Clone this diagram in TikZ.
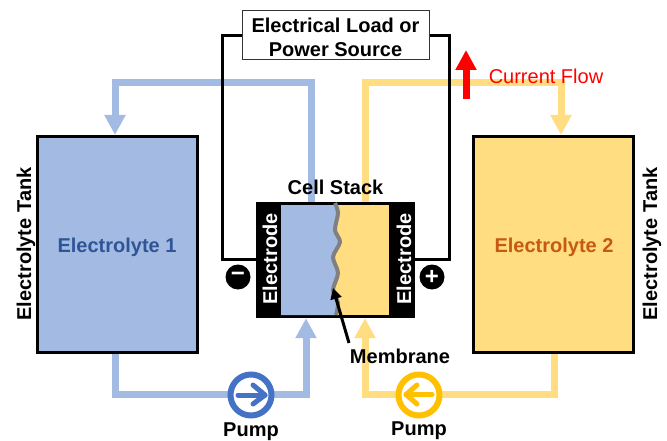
\documentclass[tikz,border=0pt]{standalone}
\usepackage{fontspec}
\setmainfont{Liberation Sans}
\usetikzlibrary{arrows.meta}
\definecolor{pipeblue}{HTML}{A3BBE2}
\definecolor{pipeyellow}{HTML}{FFDD80}
\definecolor{pumpblue}{HTML}{4472C4}
\definecolor{pumpyellow}{HTML}{FFC000}
\definecolor{labblue}{HTML}{2F5597}
\definecolor{laborange}{HTML}{C55A11}
\newcommand{\memwave}{(335,203) (338,213) (335,230) (340,242) (333,257) (338,273) (333,290) (338,303) (336,315)}
\tikzset{
  lbl/.style={font=\fontsize{20}{24}\selectfont\bfseries,text=black,inner sep=0pt},
  tank/.style={draw=black,line width=3pt,minimum width=160pt,minimum height=215pt,inner sep=0pt},
  wire/.style={draw=black,line width=3pt},
  bluepipe/.style={draw=pipeblue,line width=7pt},
  yellowpipe/.style={draw=pipeyellow,line width=7pt},
  headtip/.style={-{Triangle[width=20pt,length=20pt]}},
  pumpc/.style={circle,fill=white,line width=6pt,minimum size=41pt,inner sep=0pt},
  pumparrow/.style={line width=5pt,line cap=round,line join=round},
  electrode/.style={fill=black,minimum width=25pt,minimum height=116pt,inner sep=0pt},
  etext/.style={font=\fontsize{20}{24}\selectfont\bfseries,text=white,rotate=90,inner sep=0pt},
  term/.style={circle,fill=black,minimum size=25pt,inner sep=0pt,text=white,font=\fontsize{24}{24}\selectfont\bfseries},
}
\begin{document}
\begin{tikzpicture}[x=1pt,y=-1pt]
\useasboundingbox (0,0) rectangle (667,441);
% tanks
\node[tank,fill=pipeblue] (tank1) at (117,244.5) {};
\node[tank,fill=pipeyellow] (tank2) at (553.5,244.5) {};
\node[inner sep=0pt,font=\fontsize{20}{24}\selectfont\bfseries,text=labblue] (e1) at (117,247) {Electrolyte 1};
\node[inner sep=0pt,font=\fontsize{20}{24}\selectfont\bfseries,text=laborange] (e2) at (554,247) {Electrolyte 2};
\node[lbl,rotate=90] (t1) at (26,244) {Electrolyte Tank};
\node[lbl,rotate=90] (t2) at (652,244) {Electrolyte Tank};
% cell
\node[electrode] (elL) at (268.5,260) {};
\node[electrode] (elR) at (402.5,260) {};
\node[fill=black,minimum width=159pt,minimum height=116pt,inner sep=0pt] (cell) at (335.5,260) {};
\node[etext] (elLt) at (270,259) {Electrode};
\node[etext] (elRt) at (404,259) {Electrode};
% pipes
\coordinate (bTop) at (311,83);
\coordinate (bLeft) at (115,83);
\coordinate (bIn) at (115,135);
\coordinate (yTop) at (365,83);
\coordinate (yRight) at (561,83);
\coordinate (yIn) at (561,135);
\coordinate (bB1) at (115,394);
\coordinate (bB2) at (306,394);
\coordinate (yB1) at (554,394);
\coordinate (yB2) at (365,394);
\draw[bluepipe,headtip] (bTop |- cell.north) -- (bTop) -- (bLeft) -- (bIn);
\draw[yellowpipe,headtip] (yTop |- cell.north) -- (yTop) -- (yRight) -- (yIn);
\draw[bluepipe,headtip] (bB1 |- tank1.south) -- (bB1) -- (bB2) -- (bB2 |- cell.south);
\draw[yellowpipe,headtip] (yB1 |- tank2.south) -- (yB1) -- (yB2) -- (yB2 |- cell.south);
% cell interior on top of pipes
\fill[pipeyellow] (281,205) rectangle (389,315);
\fill[pipeblue] (281,205) -- (335,205) -- plot[smooth] coordinates {\memwave} -- (336,315) -- (281,315) -- cycle;
\draw[draw=gray,line width=4pt] plot[smooth] coordinates {\memwave};
% wires
\node[draw=black!80,line width=1pt,fill=white,minimum width=187pt,minimum height=49pt,inner sep=0pt] (load) at (335.5,35.5) {};
\node[align=center,inner sep=0pt,font=\fontsize{20}{24}\selectfont\bfseries] (loadt) at (335.5,37) {Electrical Load or\\Power Source};
\coordinate (wL) at (222,259);
\coordinate (wR) at (449,259);
\draw[wire] (load.west) -| (wL) -- (wL -| cell.west);
\draw[wire] (load.east) -| (wR) -- (wR -| cell.east);
\node[term] (minus) at (238,277) {−};
\node[term] (plus) at (432,277) {+};
% current
\coordinate (cB) at (466,99);
\coordinate (cT) at (466,50);
\draw[red,line width=7pt,-{Triangle[width=20pt,length=20pt]}] (cB) -- (cT);
\node[inner sep=0pt,text=red,font=\fontsize{20}{24}\selectfont] (cf) at (546,76) {Current Flow};
% labels
\node[lbl] (cs) at (335.5,187.5) {Cell Stack};
\node[lbl] (mem) at (400,356) {Membrane};
\coordinate (mTip) at (333,288);
\draw[black,line width=3pt,-{Triangle[width=11pt,length=11pt]}] (349,343) -- (mTip);
% pumps
\node[pumpc,draw=pumpblue] (p1) at (251,395) {};
\node[pumpc,draw=pumpyellow] (p2) at (419,395) {};
\draw[pumparrow,draw=pumpblue] (238,395) -- (265,395);
\draw[pumparrow,draw=pumpblue] (253,385) -- (265,395) -- (253,404);
\draw[pumparrow,draw=pumpyellow] (432,394.5) -- (406,394.5);
\draw[pumparrow,draw=pumpyellow] (417,385) -- (406,394.5) -- (417,404);
\node[lbl] (pl1) at (251,431.5) {Pump};
\node[lbl] (pl2) at (419,430.5) {Pump};
\end{tikzpicture}
\end{document}
